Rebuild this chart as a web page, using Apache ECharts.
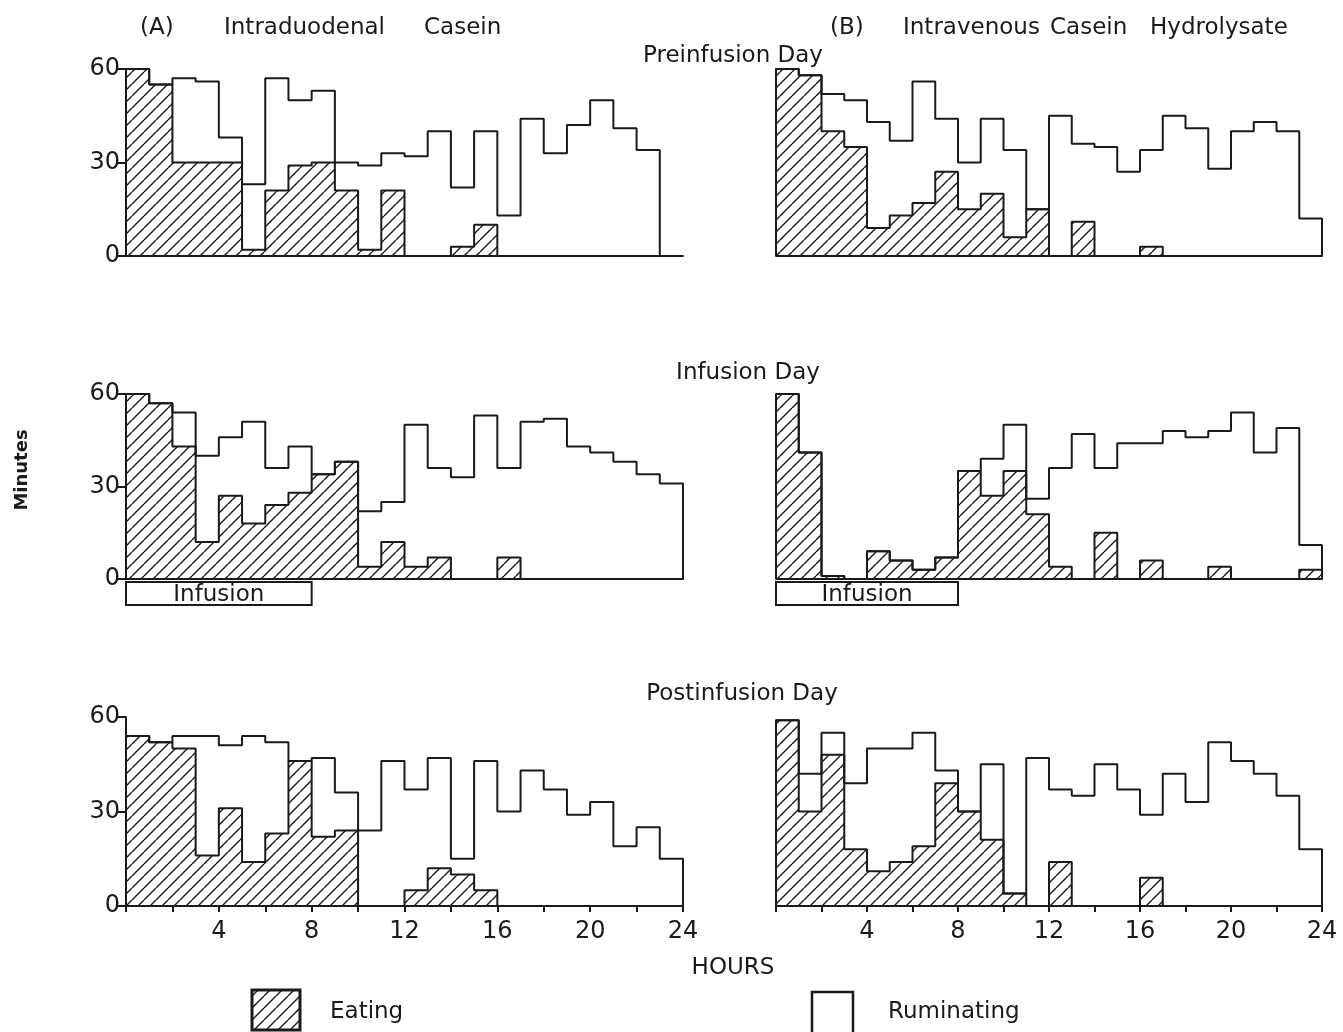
<!DOCTYPE html>
<html>
<head>
<meta charset="utf-8">
<script src="https://cdn.jsdelivr.net/npm/echarts@6/dist/echarts.min.js"></script>
<style>
  html, body { margin: 0; padding: 0; background: #fff; }
  #chart { width: 1343px; height: 1032px; }
</style>
</head>
<body>
<div id="chart"></div>
<script>
// minutes per hour, hour 0..23 (null = no bar)
const aPreEating = [60, 55, 30, 30, 30, 2, 21, 29, 30, 21, 2, 21, 0, 0, 3, 10, 0, 0, 0, 0, 0, 0, 0, null];
const aPreRuminating = [0, 0, 27, 26, 8, 21, 36, 21, 23, 9, 27, 12, 32, 40, 19, 30, 13, 44, 33, 42, 50, 41, 34, null];
const bPreEating = [60, 58, 40, 35, 9, 13, 17, 27, 15, 20, 6, 15, 0, 11, 0, 0, 3, 0, 0, 0, 0, 0, 0, 0];
const bPreRuminating = [0, 0, 12, 15, 34, 24, 39, 17, 15, 24, 28, 0, 45, 25, 35, 27, 31, 45, 41, 28, 40, 43, 40, 12];
const aInfEating = [60, 57, 43, 12, 27, 18, 24, 28, 34, 38, 4, 12, 4, 7, 0, 0, 7, 0, 0, 0, 0, 0, 0, 0];
const aInfRuminating = [0, 0, 11, 28, 19, 33, 12, 15, 0, 0, 18, 13, 46, 29, 33, 53, 29, 51, 52, 43, 41, 38, 34, 31];
const bInfEating = [60, 41, 1, 0, 9, 6, 3, 7, 35, 27, 35, 21, 4, 0, 15, 0, 6, 0, 0, 4, 0, 0, 0, 3];
const bInfRuminating = [0, 0, 0, 0, 0, 0, 0, 0, 0, 12, 15, 5, 32, 47, 21, 44, 38, 48, 46, 44, 54, 41, 49, 8];
const aPostEating = [54, 52, 50, 16, 31, 14, 23, 46, 22, 24, 0, 0, 5, 12, 10, 5, 0, 0, 0, 0, 0, 0, 0, 0];
const aPostRuminating = [0, 0, 4, 38, 20, 40, 29, 0, 25, 12, 24, 46, 32, 35, 5, 41, 30, 43, 37, 29, 33, 19, 25, 15];
const bPostEating = [59, 30, 48, 18, 11, 14, 19, 39, 30, 21, 4, 0, 14, 0, 0, 0, 9, 0, 0, 0, 0, 0, 0, 0];
const bPostRuminating = [0, 12, 7, 21, 39, 36, 36, 4, 0, 24, 0, 47, 23, 35, 45, 37, 20, 42, 33, 52, 46, 42, 35, 18];

const infusionHours = [0, 8];
const yTicks = [0, 30, 60];
const xLabelHours = [4, 8, 12, 16, 20, 24];

const panels = [
    { eating: aPreEating, ruminating: aPreRuminating },
    { eating: bPreEating, ruminating: bPreRuminating },
    { eating: aInfEating, ruminating: aInfRuminating },
    { eating: bInfEating, ruminating: bInfRuminating },
    { eating: aPostEating, ruminating: aPostRuminating },
    { eating: bPostEating, ruminating: bPostRuminating }
];

const FONT = '"DejaVu Sans", "Noto Sans", sans-serif';
const INK = '#1a1a1a';

// layout
const colLeft = [126, 776];
const colWidth = [557, 546];
const rowTop = [69, 394, 717];
const rowHeight = [187, 185, 189];

// diagonal hatch for eating
const makeHatch = (size, lw) => {
    const c = document.createElement('canvas');
    c.width = c.height = size;
    const ctx = c.getContext('2d');
    ctx.strokeStyle = INK;
    ctx.lineWidth = lw;
    [-size, 0, size].forEach(o => {
        ctx.beginPath();
        ctx.moveTo(o, size);
        ctx.lineTo(o + size, 0);
        ctx.stroke();
    });
    return c;
};
const hatch = { image: makeHatch(12, 1.4), repeat: 'repeat' };

// histogram outline as step points
const stepPoints = (vals) => {
    const pts = [[0, 0]];
    let last = 0;
    vals.forEach((v, i) => {
        if (v != null) { pts.push([i, v]); last = i; }
    });
    pts.push([last + 1, vals[last]], [last + 1, 0]);
    return pts;
};

const grids = [], xAxes = [], yAxes = [], series = [];
panels.forEach((p, g) => {
    const row = Math.floor(g / 2), col = g % 2;
    const bottom = row === 2, left = col === 0;
    grids.push({ left: colLeft[col], top: rowTop[row], width: colWidth[col], height: rowHeight[row] });
    xAxes.push({
        type: 'value', gridIndex: g, min: 0, max: 24, interval: 2,
        axisLine: { show: true, lineStyle: { color: INK, width: 2 } },
        axisTick: { show: bottom, length: 6, lineStyle: { color: INK, width: 2 } },
        axisLabel: {
            show: bottom, color: INK, fontSize: 24, fontFamily: FONT, margin: 14,
            formatter: v => xLabelHours.includes(v) ? String(v) : ''
        },
        splitLine: { show: false }
    });
    yAxes.push({
        type: 'value', gridIndex: g, min: yTicks[0], max: yTicks[2], interval: 30,
        axisLine: { show: left, lineStyle: { color: INK, width: 2 } },
        axisTick: { show: left, length: 10, lineStyle: { color: INK, width: 2 } },
        axisLabel: { show: left, color: INK, fontSize: 24, fontFamily: FONT, margin: 6 },
        splitLine: { show: false }
    });
    const total = p.eating.map((e, i) => e == null ? null : e + p.ruminating[i]);
    series.push({
        name: 'Ruminating', type: 'line', xAxisIndex: g, yAxisIndex: g, step: 'end',
        data: stepPoints(total), symbol: 'none', z: 2,
        lineStyle: { color: INK, width: 2 }
    });
    series.push({
        name: 'Eating', type: 'line', xAxisIndex: g, yAxisIndex: g, step: 'end',
        data: stepPoints(p.eating), symbol: 'none', z: 3,
        lineStyle: { color: INK, width: 2 },
        areaStyle: { color: hatch, opacity: 1 }
    });
});

const chart = echarts.init(document.getElementById('chart'));
chart.setOption({
    backgroundColor: '#fff',
    animation: false,
    textStyle: { fontFamily: FONT, color: INK },
    grid: grids, xAxis: xAxes, yAxis: yAxes, series: series
});

const txt = (text, x, y, size, extra) => Object.assign({
    type: 'text', x: x, y: y,
    style: { text: text, fontSize: size, fontFamily: FONT, fill: INK, align: 'left', verticalAlign: 'middle' }
}, extra || {});
const ctxt = (text, x, y, size) => {
    const t = txt(text, x, y, size);
    t.style.align = 'center';
    return t;
};

const graphics = [
    txt('(A)', 140, 28, 23), txt('Intraduodenal', 224, 28, 23), txt('Casein', 424, 28, 23),
    txt('(B)', 830, 28, 23), txt('Intravenous', 903, 28, 23), txt('Casein', 1050, 28, 23), txt('Hydrolysate', 1150, 28, 23),
    ctxt('Preinfusion Day', 733, 56, 23),
    ctxt('Infusion Day', 748, 373, 23),
    ctxt('Postinfusion Day', 742, 694, 23),
    ctxt('HOURS', 733, 968, 23),
    {
        type: 'text', x: 22, y: 470, rotation: Math.PI / 2,
        style: { text: 'Minutes', fontSize: 18, fontWeight: 'bold', fontFamily: FONT, fill: INK, align: 'center', verticalAlign: 'middle' }
    },
    // legend
    { type: 'rect', shape: { x: 252, y: 990, width: 48, height: 40 }, style: { fill: hatch, stroke: INK, lineWidth: 3 } },
    txt('Eating', 330, 1012, 23),
    { type: 'rect', shape: { x: 812, y: 992, width: 41, height: 42 }, style: { fill: '#fff', stroke: INK, lineWidth: 2.5 } },
    txt('Ruminating', 888, 1012, 23)
];

// infusion bars under the infusion-day panels
[2, 3].forEach(g => {
    const p0 = chart.convertToPixel({ gridIndex: g }, [infusionHours[0], 0]);
    const p1 = chart.convertToPixel({ gridIndex: g }, [infusionHours[1], 0]);
    graphics.push({
        type: 'rect', shape: { x: p0[0], y: p0[1] + 3, width: p1[0] - p0[0], height: 23 },
        style: { fill: '#fff', stroke: INK, lineWidth: 2 }
    });
    graphics.push(ctxt('Infusion', (p0[0] + p1[0]) / 2, p0[1] + 16, 23));
});

chart.setOption({ graphic: graphics });
</script>
</body>
</html>
